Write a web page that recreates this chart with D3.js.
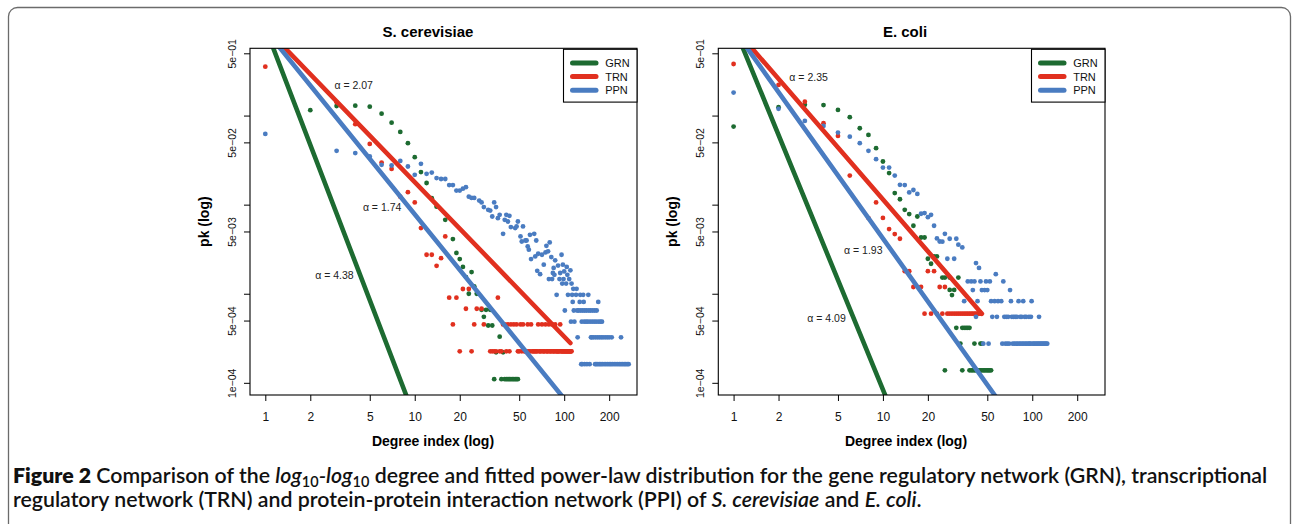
<!DOCTYPE html>
<html>
<head>
<meta charset="utf-8">
<script src="https://cdn.jsdelivr.net/npm/d3@7"></script>
<style>
  body { margin: 0; background: #fff; }
  svg { display: block; }
  text { white-space: pre; }
</style>
</head>
<body>
<svg id="chart" width="1292" height="524"></svg>
<script>
// ---- data ----
var seriesNames = ['GRN', 'TRN', 'PPN'];
var xTicks = [1, 2, 5, 10, 20, 50, 100, 200];
var yTicks = [1e-4, 5e-4, 1e-3, 5e-3, 1e-2, 5e-2, 1e-1, 5e-1];
var yTickLabels = ['1e\u221204', '5e\u221204', '', '5e\u221203', '', '5e\u221202', '', '5e\u221201'];
var xLimits = [0.79, 307];
var yLimits = [7.3e-5, 0.569];

// S. cerevisiae: [degree, pk]; rows = [pk, degrees sharing that pk]
var scGRN = [[2, 0.115], [3, 0.128], [4, 0.129], [5, 0.126], [6, 0.105], [7, 0.0833], [8, 0.0656],
  [9, 0.049], [10, 0.0341], [11, 0.0232], [12, 0.0175], [13, 0.0118], [14, 0.0095], [16, 0.00676],
  [18, 0.00411], [19, 0.00287], [20, 0.00245], [21, 0.0020], [22, 0.00154], [23, 0.0010],
  [24, 0.00175], [25, 0.00121], [26, 0.0010]];
var scGRNRows = [[6.6e-4, [28, 30, 32]], [5.5e-4, [29]], [4.4e-4, [31, 33]], [3.3e-4, [37]],
  [2.2e-4, [35, 39]], [1.1e-4, [34, 38, 40, 41, 42, 43, 44, 45, 46, 47, 48, 49]]];

var scTRN = [[1, 0.354], [3, 0.141], [4, 0.080], [5, 0.048], [6, 0.0297], [7, 0.0252], [8, 0.0123],
  [9, 0.0138], [10, 0.0106], [11, 0.00546], [12, 0.00274], [13, 0.00274], [14, 0.00206],
  [15, 0.00251], [16, 0.0044]];
var scTRNRows = [[1.13e-3, [21, 23]], [9.04e-4, [17, 19, 36]], [6.78e-4, [22, 26, 28]],
  [4.52e-4, [18, 25, 29, 39, 40, 42, 44, 46, 48, 51, 53, 57, 60, 67, 71, 75, 79, 83, 87, 94]],
  [2.26e-4, [20, 24, 32, 33, 34, 35, 37, 38, 41, 43, 49, 50, 52, 54, 55, 56, 58, 59, 61, 62, 63, 64,
    65, 66, 68, 69, 70, 72, 73, 74, 76, 77, 78, 80, 81, 82, 84, 85, 86, 88, 89, 90, 91, 92, 93, 95,
    96, 97, 98, 99, 100, 101, 102, 103, 104, 105, 106, 107, 108, 109, 110, 111, 112]]];

var scPPN = [[1, 0.0622], [3, 0.0402], [4, 0.0379], [5, 0.0347], [6, 0.028], [7, 0.0275], [8, 0.031],
  [9, 0.0268], [10, 0.0216], [11, 0.0287], [12, 0.0222], [13, 0.0229], [14, 0.0199], [15, 0.0194],
  [16, 0.0194], [17, 0.0166], [18, 0.0166], [19, 0.0144], [20, 0.0144], [21, 0.0151], [22, 0.0157],
  [23, 0.0123], [24, 0.0119], [25, 0.0119], [27, 0.0111], [28, 0.0106], [29, 0.0094], [31, 0.00875],
  [32, 0.00859], [33, 0.00736], [34, 0.0106], [35, 0.0094], [36, 0.00705], [37, 0.00769],
  [39, 0.00471], [40, 0.00676], [41, 0.00769], [42, 0.00647], [43, 0.0075], [44, 0.0056],
  [47, 0.00546], [48, 0.0057], [49, 0.00647], [51, 0.0044], [52, 0.00386], [53, 0.00569],
  [55, 0.00396], [56, 0.00396], [57, 0.0034], [58, 0.00312], [59, 0.00459], [60, 0.00245],
  [63, 0.00471], [64, 0.00262], [65, 0.00396], [66, 0.00181], [67, 0.00281], [69, 0.00166],
  [71, 0.00274], [73, 0.00212], [75, 0.00291], [76, 0.00345], [78, 0.00299], [80, 0.00377],
  [82, 0.00258], [84, 0.00171], [85, 0.00195], [86, 0.00163], [87, 0.00237], [91, 0.00207],
  [94, 0.00171], [96, 0.00274], [98, 0.00212], [100, 0.00178], [104, 0.0020], [105, 0.00163],
  [110, 0.00183]];
var scPPNRows = [[1.46e-3, [79, 83, 93, 99, 108]], [1.30e-3, [97, 103, 112]], [1.134e-3, [115, 121]],
  [9.72e-4, [89, 106, 113, 120, 128, 134, 145]], [8.1e-4, [114, 127, 135, 169]],
  [6.48e-4, [101, 116, 122, 125, 129, 133, 137, 141, 146, 150, 155, 160, 165]],
  [4.86e-4, [111, 117, 131, 136, 140, 144, 149, 154, 159, 164, 170, 175, 179]],
  [3.24e-4, [123, 151, 153, 157, 162, 167, 172, 177, 182, 188, 194, 200, 208, 240]],
  [1.62e-4, [130, 132, 137, 142, 148, 161, 164, 168, 172, 176, 180, 185, 190, 195, 200, 205, 210,
    216, 222, 228, 234, 240, 246, 252, 258, 264, 270]]];

// E. coli
var ecGRN = [[1, 0.0752], [2, 0.124], [3, 0.132], [4, 0.131], [5, 0.1156], [6, 0.0959], [7, 0.0721],
  [8, 0.0607], [9, 0.043], [10, 0.0305], [11, 0.0226], [12, 0.0135], [13, 0.0115], [14, 0.00875],
  [15, 0.00783], [16, 0.0058], [17, 0.00736], [18, 0.00428], [19, 0.00428], [20, 0.00247],
  [21, 0.00217], [22, 0.00262], [23, 0.00262]];
var ecGRNRows = [[1.52e-3, [25, 26, 28, 32]], [1.104e-3, [28, 30]], [9.66e-4, [29]],
  [4.14e-4, [31, 34, 35, 36, 37, 38]], [2.76e-4, [33, 41, 45, 46]],
  [1.38e-4, [26, 34, 38, 39, 40, 41, 42, 43, 44, 45, 46, 47, 48, 49, 50, 51, 52, 53]]];

var ecTRN = [[1, 0.379], [2, 0.221], [3, 0.143], [4, 0.082], [5, 0.0591], [6, 0.0212], [8, 0.00706],
  [9, 0.0106], [10, 0.0071], [11, 0.00532], [12, 0.00468], [13, 0.00414]];
var ecTRNRows = [[1.79e-3, [14, 15, 20, 22]], [1.19e-3, [16, 18, 24, 26]],
  [5.97e-4, [19, 21, 23, 25, 27, 28, 29, 30, 31, 32, 33, 34, 35, 36, 37, 38, 39, 40, 41, 42, 43, 44, 45]]];

var ecPPN = [[1, 0.181], [2, 0.119], [3, 0.0871], [4, 0.0766], [5, 0.0644], [6, 0.058], [7, 0.049],
  [8, 0.0402], [9, 0.0324], [10, 0.0261], [11, 0.0261], [12, 0.0212], [13, 0.0167], [14, 0.0166],
  [15, 0.0137], [16, 0.0146], [17, 0.0132], [18, 0.0079], [19, 0.00804], [20, 0.00724],
  [21, 0.00769], [22, 0.0058], [23, 0.00418], [24, 0.00386], [25, 0.00384], [26, 0.00471],
  [27, 0.00247], [28, 0.00414], [30, 0.00247], [31, 0.00414], [32, 0.00355], [34, 0.00331],
  [42, 0.00221], [44, 0.00195], [57, 0.00166]];
var ecPPNRows = [[1.375e-3, [37, 39, 41, 45, 49, 52, 64]], [1.1e-3, [40, 46, 48, 50, 71]],
  [8.25e-4, [35, 43, 53, 56, 59, 62, 72, 81, 87, 99]],
  [5.5e-4, [42, 54, 58, 65, 67, 69, 73, 75, 77, 79, 83, 85, 89, 91, 95, 98, 111]],
  [2.75e-4, [47, 51, 63, 66, 68, 70, 74, 76, 78, 80, 82, 84, 86, 88, 90, 92, 94, 96, 97, 100, 102,
    104, 106, 108, 110, 112, 114, 116, 118, 120, 122, 124, 126]]];

// fitted power-law lines, GRN / TRN / PPN: [[k1, pk1], [k2, pk2]]
var scAlpha = [4.38, 1.74, 2.07];
var scFits = [[[1, 0.977], [9, 6.47e-5]], [[1, 0.97], [110, 2.8e-4]], [[1, 0.916], [150, 2.86e-5]]];
var ecAlpha = [4.09, 1.93, 2.35];
var ecFits = [[[1, 1.03], [12, 3.98e-5]], [[1, 0.986], [46, 5.97e-4]], [[1, 0.935], [80, 3.15e-5]]];

// ---- layout / style ----
var colors = ['#1d6b31', '#e1301f', '#4a7cc1'];
var plotTop = 48.3, plotBottom = 395;
var chartFont = '"Liberation Sans", Arial, sans-serif';

var panels = [
  { title: 'S. cerevisiae', left: 250, right: 637, titleX: 428, xlabX: 433,
    series: [[scGRN, scGRNRows], [scTRN, scTRNRows], [scPPN, scPPNRows]],
    fits: scFits, alpha: scAlpha,
    // label anchor positions (data coords) for GRN, TRN, PPN
    alphaPos: [[2.90, 0.00161], [6.05, 0.00929], [3.90, 0.221]] },
  { title: 'E. coli', left: 718.3, right: 1105, titleX: 905, xlabX: 906,
    series: [[ecGRN, ecGRNRows], [ecTRN, ecTRNRows], [ecPPN, ecPPNRows]],
    fits: ecFits, alpha: ecAlpha,
    alphaPos: [[4.19, 5.35e-4], [7.39, 0.00312], [3.18, 0.269]] }
];

var svg = d3.select('#chart');

// outer figure frame
svg.append('rect')
  .attr('x', 8.5).attr('y', 7.5)
  .attr('width', 1282).attr('height', 540)
  .attr('rx', 9)
  .attr('fill', 'none')
  .attr('stroke', '#6b6b6b')
  .attr('stroke-width', 1.3);

function buildSeries(points, rows) {
  var out = points.map(function (d) { return { k: d[0], pk: d[1] }; });
  rows.forEach(function (r) {
    r[1].forEach(function (k) { out.push({ k: k, pk: r[0] }); });
  });
  return out;
}

function drawPanel(p, idx) {
  var x = d3.scaleLog().domain(xLimits).range([p.left, p.right]);
  var y = d3.scaleLog().domain(yLimits).range([plotBottom, plotTop]);
  var g = svg.append('g').attr('class', 'panel');

  var clipId = 'clip-' + idx;
  g.append('clipPath').attr('id', clipId)
    .append('rect')
    .attr('x', p.left).attr('y', plotTop)
    .attr('width', p.right - p.left).attr('height', plotBottom - plotTop);

  var plot = g.append('g').attr('clip-path', 'url(#' + clipId + ')');

  // points
  p.series.forEach(function (s, i) {
    plot.append('g')
      .selectAll('circle')
      .data(buildSeries(s[0], s[1]))
      .enter().append('circle')
      .attr('cx', function (d) { return x(d.k); })
      .attr('cy', function (d) { return y(d.pk); })
      .attr('r', 2.4)
      .attr('fill', colors[i]);
  });

  // fitted lines
  var line = d3.line()
    .x(function (d) { return x(d[0]); })
    .y(function (d) { return y(d[1]); });
  p.fits.forEach(function (f, i) {
    plot.append('path')
      .attr('d', line(f))
      .attr('fill', 'none')
      .attr('stroke', colors[i])
      .attr('stroke-width', 4.6)
      .attr('stroke-linecap', 'round');
  });

  // alpha labels
  p.alpha.forEach(function (a, i) {
    g.append('text')
      .attr('x', x(p.alphaPos[i][0]))
      .attr('y', y(p.alphaPos[i][1]) + 3.8)
      .attr('text-anchor', 'middle')
      .attr('font-family', chartFont)
      .attr('font-size', 10.5)
      .attr('fill', '#222')
      .text('\u03b1 = ' + a.toFixed(2));
  });

  // box
  g.append('rect')
    .attr('x', p.left).attr('y', plotTop)
    .attr('width', p.right - p.left).attr('height', plotBottom - plotTop)
    .attr('fill', 'none').attr('stroke', '#000').attr('stroke-width', 1.1);

  // x axis
  var xAxis = g.append('g')
    .attr('transform', 'translate(0,' + plotBottom + ')')
    .call(d3.axisBottom(x).tickValues(xTicks).tickFormat(d3.format('d')).tickSize(6).tickSizeOuter(0));
  xAxis.select('.domain').remove();
  xAxis.selectAll('text')
    .attr('y', 25.5).attr('dy', null)
    .attr('font-family', chartFont).attr('font-size', 12).attr('fill', '#111');
  xAxis.selectAll('line').attr('stroke', '#000');

  // y axis
  var yAxis = g.append('g')
    .attr('transform', 'translate(' + p.left + ',0)')
    .call(d3.axisLeft(y).tickValues(yTicks)
      .tickFormat(function (d, i) { return yTickLabels[i]; })
      .tickSize(6).tickSizeOuter(0));
  yAxis.select('.domain').remove();
  yAxis.selectAll('text')
    .attr('x', null).attr('dy', null)
    .attr('text-anchor', 'middle')
    .attr('transform', 'translate(-14.5,0) rotate(-90)')
    .attr('font-family', chartFont).attr('font-size', 10.5).attr('fill', '#111');
  yAxis.selectAll('line').attr('stroke', '#000');

  // titles
  g.append('text')
    .attr('x', p.titleX).attr('y', 36.8)
    .attr('text-anchor', 'middle')
    .attr('font-family', chartFont).attr('font-weight', 'bold').attr('font-size', 15)
    .text(p.title);

  g.append('text')
    .attr('x', p.xlabX).attr('y', 445.5)
    .attr('text-anchor', 'middle')
    .attr('font-family', chartFont).attr('font-weight', 'bold').attr('font-size', 14)
    .text('Degree index (log)');

  g.append('text')
    .attr('transform', 'translate(' + (p.left - 41.5) + ',' + ((plotTop + plotBottom) / 2) + ') rotate(-90)')
    .attr('text-anchor', 'middle')
    .attr('font-family', chartFont).attr('font-weight', 'bold').attr('font-size', 14)
    .text('pk (log)');

  // legend
  var lg = g.append('g').attr('transform', 'translate(' + (p.right - 73.5) + ',' + (plotTop + 1) + ')');
  lg.append('rect')
    .attr('width', 73.5).attr('height', 52.8)
    .attr('fill', '#fff').attr('stroke', '#000').attr('stroke-width', 1.1);
  seriesNames.forEach(function (name, i) {
    var ly = 13.6 + i * 13.7;
    lg.append('line')
      .attr('x1', 9).attr('x2', 32.5)
      .attr('y1', ly).attr('y2', ly)
      .attr('stroke', colors[i]).attr('stroke-width', 5).attr('stroke-linecap', 'round');
    lg.append('text')
      .attr('x', 41.7).attr('y', ly + 4)
      .attr('font-family', chartFont).attr('font-size', 11).attr('fill', '#111')
      .text(name);
  });
}

panels.forEach(drawPanel);

// caption
var captionFont = 'Lato, "Open Sans", sans-serif';
var capLines = [
  [['Figure 2', 'b'], [' Comparison of the ', ''], ['log', 'i'], ['10', 's'], ['-log', 'i'], ['10', 's'],
    [' degree and fitted power-law distribution for the gene regulatory network (GRN), transcriptional', '']],
  [['regulatory network (TRN) and protein-protein interaction network (PPI) of ', ''],
    ['S. cerevisiae', 'i'], [' and ', ''], ['E. coli', 'i'], ['.', '']]
];
var capBaselines = [483, 507];

var capNodes = capLines.map(function (parts, li) {
  var t = svg.append('text')
    .attr('x', 13).attr('y', capBaselines[li])
    .attr('font-family', captionFont)
    .attr('font-weight', 600)
    .attr('font-size', 18)
    .attr('fill', '#111');
  var shifted = false;
  parts.forEach(function (pt) {
    var ts = t.append('tspan').text(pt[0]);
    if (pt[1] === 'b') ts.attr('font-weight', 800);
    if (pt[1] === 'i') ts.attr('font-style', 'italic');
    if (pt[1] === 's') { ts.attr('font-size', '0.68em').attr('dy', '0.3em'); shifted = true; }
    else if (shifted) { ts.attr('dy', '-0.2em'); shifted = false; }
  });
  return t;
});

// fit the first caption line to the width it has in the figure
var w1 = capNodes[0].node().getComputedTextLength();
var fs = 18 * 1255 / w1;
capNodes.forEach(function (t) { t.attr('font-size', fs); });
</script>
</body>
</html>
